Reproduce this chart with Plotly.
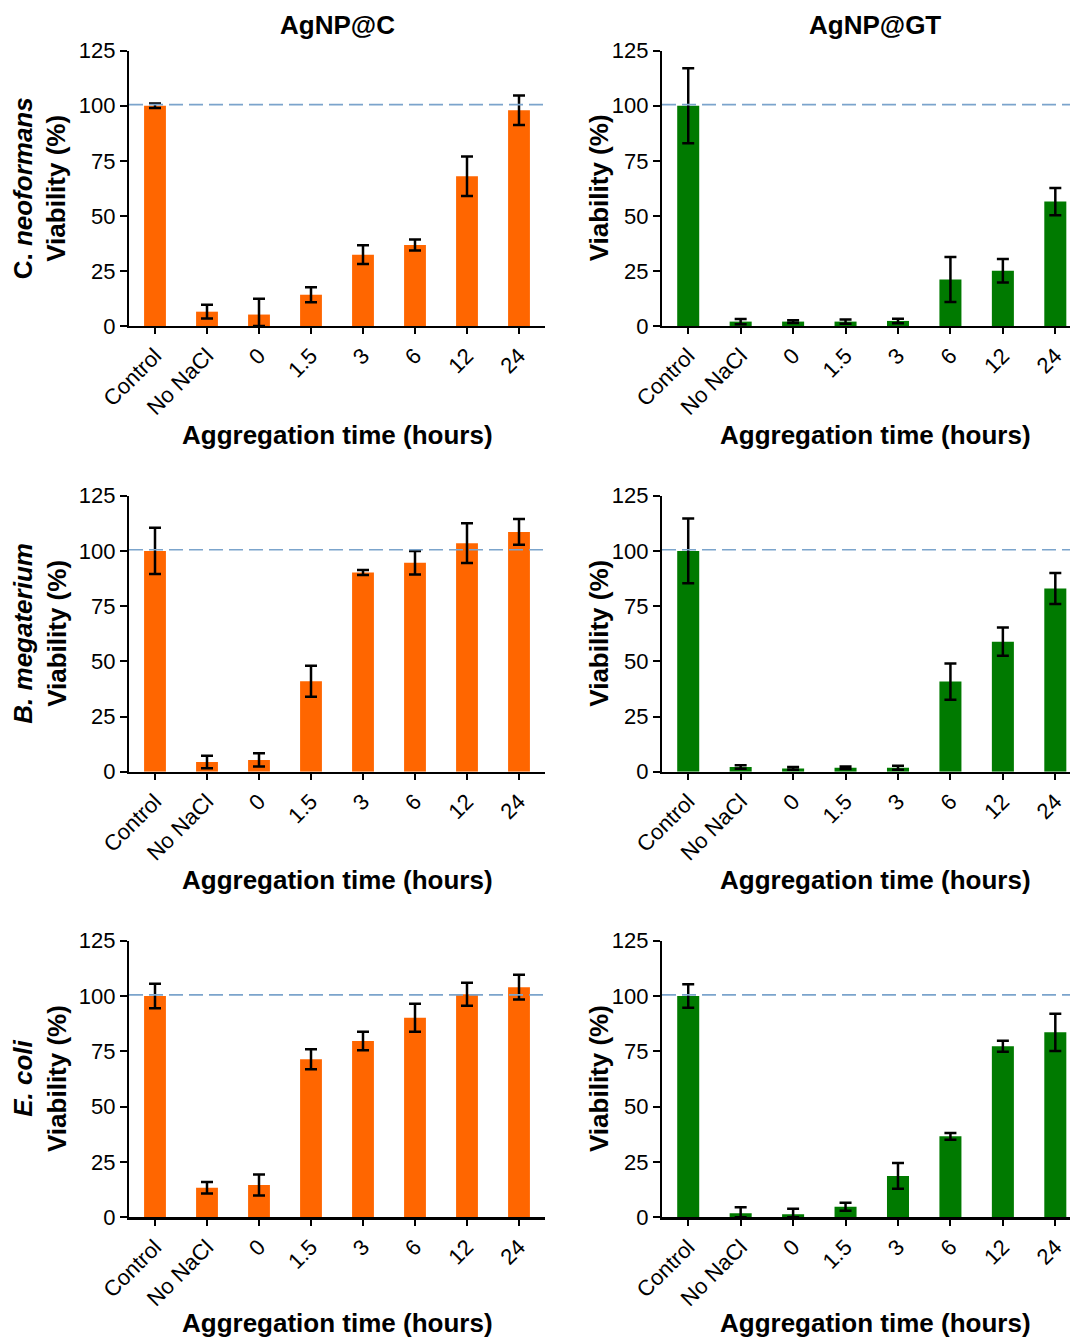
import plotly.graph_objects as go

# ---------------- data ----------------
categories = ["Control", "No NaCl", "0", "1.5", "3", "6", "12", "24"]
y_ticks = [0, 25, 50, 75, 100, 125]
reference_level = 100.5

col_titles = ["AgNP@C", "AgNP@GT"]
species = ["C. <i>neoformans</i>", "<i>B. megaterium</i>", "<i>E. coli</i>"]
x_title = "Aggregation time (hours)"
y_title = "Viability (%)"

cneo_c_mean = [100, 6.5, 5.2, 14.2, 32.4, 36.8, 68.0, 98.0]
cneo_c_err = [1.0, 3.1, 7.2, 3.4, 4.3, 2.5, 9.0, 6.7]
cneo_gt_mean = [100, 2.0, 2.0, 2.0, 2.3, 21.1, 25.1, 56.5]
cneo_gt_err = [17.0, 1.2, 0.6, 1.0, 1.0, 10.2, 5.3, 6.2]

bmeg_c_mean = [100, 4.4, 5.3, 41.0, 90.2, 94.6, 103.5, 108.6]
bmeg_c_err = [10.5, 2.8, 3.0, 7.0, 1.1, 5.3, 9.0, 5.8]
bmeg_gt_mean = [100, 2.1, 1.5, 1.8, 1.8, 40.8, 58.9, 83.0]
bmeg_gt_err = [14.7, 0.8, 0.6, 0.6, 0.9, 8.2, 6.4, 7.0]

ecoli_c_mean = [100, 13.3, 14.6, 71.4, 79.7, 90.2, 100.8, 104.0]
ecoli_c_err = [5.5, 2.6, 4.7, 4.5, 4.2, 6.3, 5.2, 5.6]
ecoli_gt_mean = [100, 1.8, 1.4, 4.8, 18.7, 36.6, 77.3, 83.6]
ecoli_gt_err = [5.3, 2.7, 2.5, 1.8, 5.8, 1.5, 2.5, 8.4]

panels = [
    (cneo_c_mean, cneo_c_err, 0, 0),
    (cneo_gt_mean, cneo_gt_err, 0, 1),
    (bmeg_c_mean, bmeg_c_err, 1, 0),
    (bmeg_gt_mean, bmeg_gt_err, 1, 1),
    (ecoli_c_mean, ecoli_c_err, 2, 0),
    (ecoli_gt_mean, ecoli_gt_err, 2, 1),
]

# ---------------- styling / layout ----------------
W, H = 1070, 1338
FONT = "Arial, 'Liberation Sans', Helvetica, sans-serif"
colors = ["#FF6600", "#007A00"]
x_domains = [[129 / W, 545 / W], [662 / W, 1.0]]
x_ranges = [[-0.5, 7.5], [-0.5, 7.28]]
row_px = [(50.7, 326.0), (495.7, 771.7), (940.7, 1217.3)]
y_domains = [[(H - b) / H, (H - t) / H] for (t, b) in row_px]

fig = go.Figure()
layout = dict(
    width=W, height=H,
    margin=dict(l=0, r=0, t=0, b=0, autoexpand=False),
    paper_bgcolor="white", plot_bgcolor="white",
    showlegend=False,
    font=dict(family=FONT, color="black"),
)
shapes = []
annotations = []

for i, (mean, err, r, c) in enumerate(panels):
    n = i + 1
    xa = "x" if n == 1 else f"x{n}"
    ya = "y" if n == 1 else f"y{n}"
    err_minus = [min(e, m) for e, m in zip(err, mean)]
    fig.add_trace(go.Bar(
        x=categories, y=mean, xaxis=xa, yaxis=ya,
        marker=dict(color=colors[c], line=dict(width=0)),
        width=0.42,
        error_y=dict(type="data", array=err, arrayminus=err_minus, symmetric=False,
                     color="black", thickness=2.5, width=6),
    ))
    key = xa.replace("x", "xaxis")
    ykey = ya.replace("y", "yaxis")
    layout[key] = dict(
        domain=x_domains[c], anchor=ya, range=x_ranges[c], type="category",
        automargin=False,
        showline=True, linecolor="black", linewidth=2.2,
        ticks="outside", ticklen=6, tickwidth=2, tickcolor="black",
        tickangle=-45, tickfont=dict(size=22, family=FONT, color="black"),
        showgrid=False, zeroline=False, fixedrange=True,
    )
    layout[ykey] = dict(
        domain=y_domains[r], anchor=xa, range=[0, 125], automargin=False,
        tickvals=y_ticks, ticktext=[str(v) for v in y_ticks],
        showline=True, linecolor="black", linewidth=2.2,
        ticks="outside", ticklen=7, tickwidth=2, tickcolor="black",
        tickfont=dict(size=22, family=FONT, color="black"),
        showgrid=False, zeroline=False, fixedrange=True,
    )
    shapes.append(dict(
        type="line", xref=f"{xa} domain", yref=ya, x0=0, x1=1,
        y0=reference_level, y1=reference_level,
        line=dict(color="#7BA4CC", width=1.6, dash="14px,6px"), layer="above",
    ))
    # x-axis title
    x_centers = [337 / W, 875 / W]
    x_title_y = [(H - 435) / H, (H - 880) / H, (H - 1323) / H]
    annotations.append(dict(
        text=f"<b>{x_title}</b>", xref="paper", yref="paper",
        x=x_centers[c], y=x_title_y[r], xanchor="center", yanchor="middle",
        showarrow=False, font=dict(size=26, family=FONT, color="black"),
    ))
    # y-axis title
    ymid = (y_domains[r][0] + y_domains[r][1]) / 2
    if c == 0:
        txt = f"<b>{species[r]}<br>{y_title}</b>"
        xpos = 40 / W
    else:
        txt = f"<b>{y_title}</b>"
        xpos = 599 / W
    annotations.append(dict(
        text=txt, xref="paper", yref="paper", x=xpos, y=ymid,
        xanchor="center", yanchor="middle", textangle=-90,
        showarrow=False, font=dict(size=26, family=FONT, color="black"),
    ))

for c in range(2):
    annotations.append(dict(
        text=f"<b>{col_titles[c]}</b>", xref="paper", yref="paper",
        x=[337 / W, 875 / W][c], y=(H - 25) / H, xanchor="center", yanchor="middle",
        showarrow=False, font=dict(size=26, family=FONT, color="black"),
    ))

layout["shapes"] = shapes
layout["annotations"] = annotations
fig.update_layout(**layout)

fig.write_html(
    "out.html",
    config={"displayModeBar": False, "staticPlot": True},
    post_script="document.body.style.margin='0px';document.body.style.overflow='hidden';",
)
